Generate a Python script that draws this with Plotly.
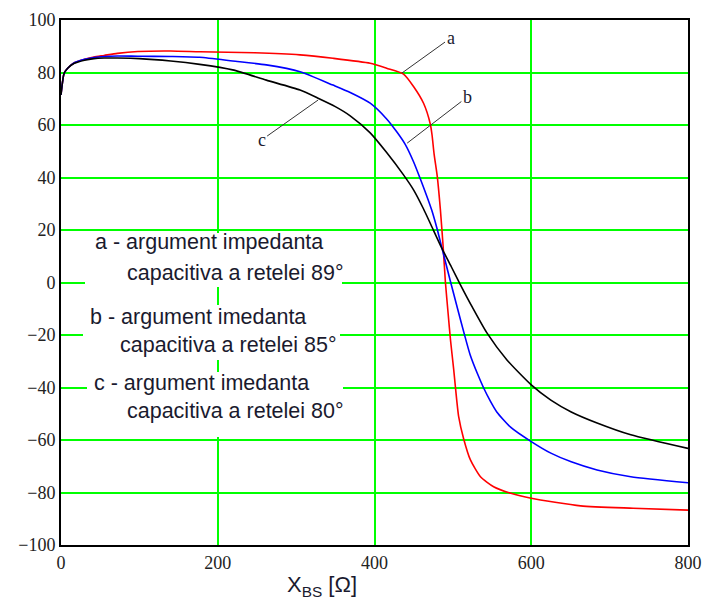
import plotly.graph_objects as go

# Curve a (red) - argument 89°
xa = [0, 4, 8.5, 17, 30, 42, 55, 72, 98, 140, 177, 247, 305, 347, 394.5, 415.5, 437, 450, 462.6, 471.2, 473.5, 476, 480, 484, 487.5, 490.5, 494, 497, 501, 503.2, 507.4, 513.8, 522.4, 535.2, 552, 574, 600, 663, 730, 800]
ya = [71.5, 79.7, 81.6, 83.7, 85, 85.9, 86.5, 87.3, 88, 88.2, 87.9, 87.5, 86.7, 85.4, 83.5, 81.6, 79.4, 74.6, 68.3, 60.4, 56, 49, 40.6, 28, 14, 0, -12, -22, -33, -39.7, -51.1, -59.6, -67.6, -74, -77.8, -80.3, -82.2, -85.1, -86, -86.7]

# Curve b (blue) - argument 85°
xb = [0, 4, 8.5, 17, 30, 42, 55, 72, 98, 140, 177, 219, 262, 305, 347, 369, 394.5, 415.5, 428.6, 439.2, 449.8, 458.3, 467, 473, 480, 486, 497, 506, 514, 522, 531, 539, 548, 556, 574, 600, 625, 651, 684, 727, 800]
yb = [71.5, 79.7, 81.6, 83.7, 85, 85.7, 86.1, 86.3, 86.2, 86.1, 85.8, 84.4, 82.9, 80.3, 75.2, 72.4, 68.3, 62.3, 57.3, 52.6, 46, 39.6, 32.7, 27.6, 20.3, 13.2, 0.3, -10, -19, -27.5, -34.5, -40, -45.3, -49.3, -55.2, -60.6, -65, -68.3, -71.4, -74, -76.3]

# Curve c (black) - argument 80°
xc = [0, 4, 8.5, 17, 30, 42, 55, 72, 100, 140, 177, 219, 262, 305, 328, 350, 369, 394.5, 415.5, 437, 450, 462.6, 472, 486, 498, 509, 525, 543, 569, 600, 625, 651, 684, 727, 800]
yc = [71.5, 79.7, 81.6, 83.5, 84.7, 85.3, 85.5, 85.5, 85.3, 84.4, 83.1, 81, 77.1, 73.3, 70.2, 67, 63.5, 57, 49.5, 41, 35.2, 28, 22, 13, 6, -0.5, -9.5, -19, -29.5, -39, -44.8, -49.3, -53.5, -58, -63.2]

x_ticks = [0, 200, 400, 600, 800]
y_ticks = list(range(-100, 101, 20))

legend_lines = [
    ("a - argument impedanta", "capacitiva a retelei 89°"),
    ("b - argument imedanta", "capacitiva a retelei 85°"),
    ("c - argument imedanta", "capacitiva a retelei 80°"),
]

GREEN = "#00ff00"
TXT = "#1a1a2e"
fig = go.Figure()
for xs, ys, col in ((xa, ya, "#ff0000"), (xb, yb, "#0000ff"), (xc, yc, "#000000")):
    fig.add_trace(go.Scatter(x=xs, y=ys, mode="lines",
                             line=dict(color=col, width=1.6, shape="spline", smoothing=0.6),
                             showlegend=False))

W, H = 707, 600
L, R, T, B = 61, 19, 20, 55
pw, ph = W - L - R, H - T - B

def px2x(px):
    return (px - L) / pw * 800

def py2y(py):
    return 100 - (py - T) / ph * 200

shapes = []
# white boxes behind the legend text (cover the grid)
boxes = [(85, 342, 233, 287), (83, 340, 305, 360), (87, 343, 372, 437)]
for (x0, x1, y0, y1) in boxes:
    shapes.append(dict(type="rect", xref="x", yref="y", layer="above",
                       x0=px2x(x0), x1=px2x(x1), y0=py2y(y1), y1=py2y(y0),
                       fillcolor="white", line=dict(width=0)))

annotations = []
line_pos = [((93, 242), (125, 273)), ((88, 317), (118, 345)), ((92, 383), (125, 411))]
for (t1, t2), (p1, p2) in zip(legend_lines, line_pos):
    for txt, (px, py) in ((t1, p1), (t2, p2)):
        annotations.append(dict(
            x=px2x(px), y=py2y(py), xref="x", yref="y", text=txt,
            showarrow=False, xanchor="left", yanchor="middle",
            font=dict(family="Liberation Sans", size=21.5, color=TXT)))

# curve labels with pointer lines
labels = [("a", 435, 79.8, 497, 93.1), ("b", 441.7, 53.1, 518.5, 70.7), ("c", 328, 69.5, 256, 54.3)]
for t, x, y, ax, ay in labels:
    annotations.append(dict(
        x=x, y=y, ax=ax, ay=ay, xref="x", yref="y", axref="x", ayref="y",
        text=t, showarrow=True, arrowhead=0, arrowwidth=1, arrowcolor="#333333",
        font=dict(family="Liberation Serif", size=18, color=TXT)))

annotations.append(dict(
    x=(322 - L) / pw, y=-(586 - (H - B)) / ph, xref="paper", yref="paper",
    xanchor="center", yanchor="middle",
    text="X<sub>BS</sub> [Ω]", showarrow=False,
    font=dict(family="Liberation Sans", size=22, color=TXT)))

fig.update_layout(
    width=W, height=H,
    margin=dict(l=L, r=R, t=T, b=B, autoexpand=False),
    paper_bgcolor="white", plot_bgcolor="white",
    annotations=annotations, shapes=shapes,
    xaxis=dict(range=[0, 800], tickvals=x_ticks, showgrid=True, gridcolor=GREEN, gridwidth=1.8,
               zeroline=False, showline=True, mirror=True, linecolor="black", linewidth=2,
               automargin=False, ticks="",
               tickfont=dict(family="Liberation Serif", size=18, color="#222222")),
    yaxis=dict(range=[-100, 100], tickvals=y_ticks, showgrid=True, gridcolor=GREEN, gridwidth=1.8,
               zeroline=False, showline=True, mirror=True, linecolor="black", linewidth=2,
               automargin=False, ticks="",
               tickfont=dict(family="Liberation Serif", size=18, color="#222222")),
)

fig.write_html("out.html")
